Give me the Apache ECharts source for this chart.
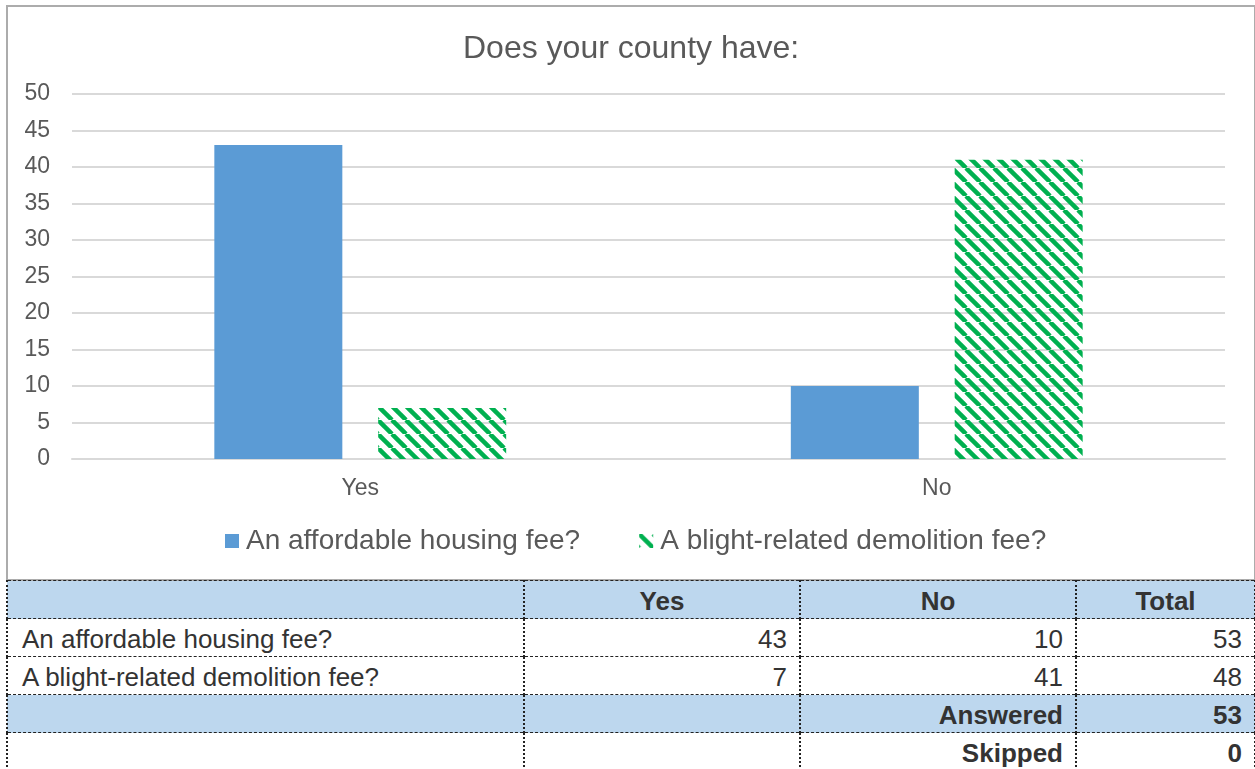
<!DOCTYPE html>
<html>
<head>
<meta charset="utf-8">
<script src="https://cdn.jsdelivr.net/npm/echarts@6/dist/echarts.min.js"></script>
<style>
    body { margin: 0; background: #fff; font-family: "Liberation Sans", Arial, sans-serif; }
    #frame { position: absolute; left: 6px; top: 5px; width: 1246px; height: 572px; border: 2px solid #acacac; }
    #chart { position: absolute; left: 0; top: 0; width: 1255px; height: 580px; }
    #tbl { position: absolute; left: 6px; top: 580px; width: 1248px; border-collapse: collapse; table-layout: fixed; font-size: 26px; color: #333; }
    #tbl td { height: 37px; padding: 3px 12px 0 12px; border-top: 1px dashed #222; border-bottom: 1px dashed #222; border-left: 2px dotted #222; border-right: 2px dotted #222; text-align: right; line-height: 34px; white-space: nowrap; box-sizing: border-box; }
    #tbl td.lbl { text-align: left; padding-left: 14px; }
    #tbl tr.hd td { background: #bdd7ee; font-weight: bold; }
    #tbl td.hdc { text-align: center; }
    #tbl td.b { font-weight: bold; }
</style>
</head>
<body>
<div id="frame"></div>
<div id="chart"></div>
<table id="tbl"></table>
<script>
    var categories = ['Yes', 'No'];
    var seriesNames = ['An affordable housing fee?', 'A blight-related demolition fee?'];
    var affordable = [43, 10];
    var blight = [7, 41];
    var totals = [53, 48];
    var answered = 53;
    var skipped = 0;

    // diagonal hatch tile for the second series
    var tile = document.createElement('canvas');
    tile.width = 14;
    tile.height = 14;
    var ctx = tile.getContext('2d');
    ctx.strokeStyle = '#00b050';
    ctx.lineWidth = 4.5;
    [-14, 0, 14].forEach(function (x0) {
        ctx.beginPath();
        ctx.moveTo(x0, 0);
        ctx.lineTo(x0 + 14, 14);
        ctx.stroke();
    });

    var chart = echarts.init(document.getElementById('chart'));

    option = {
        animation: false,
        title: {
            text: 'Does your county have:',
            left: 458,
            top: 28,
            textStyle: { fontFamily: 'Liberation Sans', fontSize: 32, fontWeight: 'normal', color: '#595959' }
        },
        legend: {
            bottom: 20,
            left: 220,
            icon: 'rect',
            itemWidth: 14,
            itemHeight: 14,
            itemGap: 59,
            textStyle: { fontFamily: 'Liberation Sans', fontSize: 28, color: '#595959', padding: [0, 0, 0, 2] },
            data: seriesNames
        },
        grid: {
            left: 72,
            right: 30,
            top: 94,
            height: 365
        },
        xAxis: {
            type: 'category',
            data: categories,
            axisLine: { lineStyle: { color: '#d9d9d9', width: 2 } },
            axisTick: { show: false },
            axisLabel: { fontFamily: 'Liberation Sans', fontSize: 23, color: '#595959', margin: 18 }
        },
        yAxis: {
            type: 'value',
            min: 0,
            max: 50,
            interval: 5,
            axisLine: { show: false },
            axisTick: { show: false },
            axisLabel: { fontFamily: 'Liberation Sans', fontSize: 23, color: '#595959', margin: 22 },
            splitLine: { lineStyle: { color: '#d9d9d9', width: 2 } }
        },
        series: [
            {
                name: seriesNames[0],
                type: 'bar',
                data: affordable,
                barWidth: 128,
                barGap: '28%',
                itemStyle: { color: '#5b9bd5' }
            },
            {
                name: seriesNames[1],
                type: 'bar',
                data: blight,
                barWidth: 128,
                itemStyle: { color: { image: tile, repeat: 'repeat' } }
            }
        ]
    };
    chart.setOption(option);

    // summary table under the chart
    var widths = [517, 276, 276, 179];
    var rows = [];
    rows.push('<colgroup>' + widths.map(function (w) { return '<col style="width:' + w + 'px">'; }).join('') + '</colgroup>');
    rows.push('<tr class="hd"><td></td>' + categories.map(function (c) { return '<td class="hdc">' + c + '</td>'; }).join('') + '<td class="hdc">Total</td></tr>');
    rows.push('<tr><td class="lbl">' + seriesNames[0] + '</td><td>' + affordable[0] + '</td><td>' + affordable[1] + '</td><td>' + totals[0] + '</td></tr>');
    rows.push('<tr><td class="lbl">' + seriesNames[1] + '</td><td>' + blight[0] + '</td><td>' + blight[1] + '</td><td>' + totals[1] + '</td></tr>');
    rows.push('<tr class="hd"><td></td><td></td><td>Answered</td><td>' + answered + '</td></tr>');
    rows.push('<tr><td></td><td></td><td class="b">Skipped</td><td class="b">' + skipped + '</td></tr>');
    document.getElementById('tbl').innerHTML = rows.join('');
</script>
</body>
</html>
